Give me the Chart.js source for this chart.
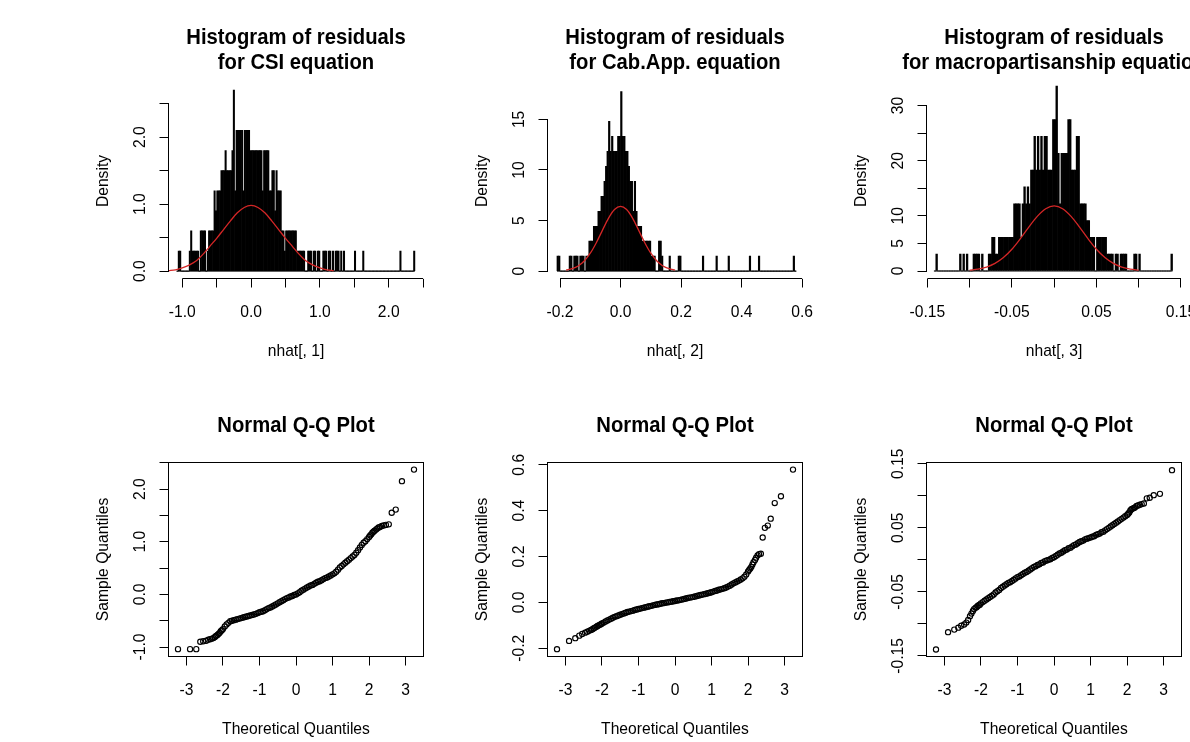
<!DOCTYPE html>
<html>
<head>
<meta charset="utf-8">
<script src="https://cdn.jsdelivr.net/npm/chart.js@4.4.1/dist/chart.umd.min.js"></script>
<style>
  html, body { margin: 0; padding: 0; background: #fff; overflow: hidden; }
  body { width: 1190px; height: 742px; position: relative; }
  canvas { position: absolute; }
</style>
</head>
<body>
<canvas id="hist1" width="380" height="371" style="left:58px;top:0px"></canvas>
<canvas id="hist2" width="380" height="371" style="left:437px;top:0px"></canvas>
<canvas id="hist3" width="380" height="371" style="left:816px;top:0px"></canvas>
<canvas id="qq1" width="380" height="371" style="left:58px;top:371px"></canvas>
<canvas id="qq2" width="380" height="371" style="left:437px;top:371px"></canvas>
<canvas id="qq3" width="380" height="371" style="left:816px;top:371px"></canvas>
<script>
// histogram densities, one value per bin
const csiBinStart = -1.08;
const csiBinWidth = 0.02;
const csiDensity = [
  0, .3, .3, 0, 0, 0, 0, 0, 0, .3,
  .6, .3, .3, .3, .3, .3, 0, .6, .6, .6,
  .6, 0, .3, .6, .6, .6, .6, 1.2, .9, 1.2,
  1.2, 1.2, 1.5, 1.5, 1.5, 1.8, 1.5, 1.5, 1.5, 1.5,
  1.8, 2.7, 1.2, 2.1, 2.1, 2.1, 2.1, 2.1, 1.2, 2.1,
  2.1, 2.1, 2.1, 1.8, 1.8, 1.8, 1.8, 1.8, 1.8, 1.8,
  1.8, 1.8, 1.2, 1.8, 1.8, 1.8, 1.8, 1.2, 1.2, 1.5,
  1.5, .9, 1.5, 1.2, 1.2, 1.2, .6, .6, .3, .6,
  .6, .6, .6, .6, .6, .6, .6, .3, .3, .3,
  .3, .3, .3, 0, 0, .3, .3, .3, 0, .3,
  .3, 0, .3, .3, 0, 0, .3, .3, .3, 0,
  .3, .3, 0, .3, 0, .3, .3, .3, 0, .3,
  0, .3, 0, 0, 0, 0, 0, 0, 0, .3,
  0, 0, 0, 0, 0, .3, 0, 0, 0, 0,
  0, 0, 0, 0, 0, 0, 0, 0, 0, 0,
  0, 0, 0, 0, 0, 0, 0, 0, 0, 0,
  0, 0, .3, 0, 0, 0, 0, 0, 0, 0,
  0, 0, .3
];

const cabBinStart = -0.21;
const cabBinWidth = 0.005;
const cabDensity = [
  1.48, 1.48, 0, 0, 0, 0, 0, 0, 1.48, 1.48,
  0, 1.48, 1.48, 1.48, 0, 1.48, 1.48, 1.48, 0, 1.48,
  1.48, 2.96, 2.96, 2.96, 4.44, 4.44, 4.44, 5.92, 5.92, 7.4,
  7.4, 8.88, 10.36, 11.84, 14.8, 11.84, 13.32, 11.84, 11.84, 11.84,
  13.32, 13.32, 17.76, 13.32, 13.32, 11.84, 11.84, 10.36, 8.88, 8.88,
  5.92, 8.88, 5.92, 4.44, 4.44, 4.44, 2.96, 2.96, 2.96, 2.96,
  2.96, 2.96, 1.48, 1.48, 1.48, 0, 0, 2.96, 2.96, 1.48,
  0, 0, 0, 0, 1.48, 0, 0, 0, 0, 0,
  1.48, 1.48, 0, 0, 0, 0, 0, 0, 0, 0,
  0, 0, 0, 0, 0, 0, 1.48, 0, 0, 0,
  0, 0, 0, 0, 0, 1.48, 0, 0, 0, 0,
  0, 0, 0, 1.48, 0, 0, 0, 0, 0, 0,
  0, 0, 0, 0, 0, 0, 0, 1.48, 0, 0,
  0, 0, 0, 1.48, 0, 0, 0, 0, 0, 0,
  0, 0, 0, 0, 0, 0, 0, 0, 0, 0,
  0, 0, 0, 0, 0, 0, 1.48, 0
];

const macroBinStart = -0.142;
const macroBinWidth = 0.002;
const macroDensity = [
  0, 3.05, 0, 0, 0, 0, 0, 0, 0, 0,
  0, 0, 0, 0, 0, 3.05, 0, 3.05, 0, 3.05,
  0, 0, 0, 3.05, 3.05, 3.05, 3.05, 0, 3.05, 0,
  0, 0, 3.05, 3.05, 6.1, 6.1, 3.05, 3.05, 6.1, 6.1,
  6.1, 6.1, 6.1, 6.1, 6.1, 6.1, 6.1, 12.2, 12.2, 12.2,
  12.2, 6.1, 12.2, 15.25, 12.2, 15.25, 12.2, 18.3, 18.3, 24.4,
  18.3, 24.4, 18.3, 24.4, 18.3, 24.4, 24.4, 18.3, 18.3, 18.3,
  27.45, 27.45, 33.55, 21.35, 12.2, 21.35, 21.35, 21.35, 21.35, 27.45,
  27.45, 18.3, 18.3, 18.3, 24.4, 24.4, 12.2, 12.2, 12.2, 12.2,
  9.15, 9.15, 6.1, 6.1, 6.1, 0, 6.1, 6.1, 6.1, 6.1,
  6.1, 6.1, 3.05, 3.05, 3.05, 3.05, 0, 3.05, 3.05, 0,
  3.05, 3.05, 3.05, 3.05, 0, 0, 0, 0, 3.05, 3.05,
  0, 3.05, 0, 0, 0, 0, 0, 0, 0, 0,
  0, 0, 0, 0, 0, 0, 0, 0, 0, 0,
  3.05
];

// fitted normal curves (red)
const csiCurveX = [-1.2, -1.1, -1.0, -0.9, -0.8, -0.7, -0.6, -0.5, -0.4, -0.3, -0.2, -0.1, 0,
  0.1, 0.2, 0.3, 0.4, 0.5, 0.6, 0.7, 0.8, 0.9, 1.0, 1.1, 1.2];
const csiCurveY = [0.007, 0.02, 0.05, 0.09, 0.15, 0.25, 0.37, 0.49, 0.62, 0.75, 0.87, 0.95, 0.98,
  0.95, 0.87, 0.75, 0.62, 0.49, 0.37, 0.25, 0.15, 0.09, 0.05, 0.02, 0.007];
const cabCurveX = [-0.18, -0.16, -0.14, -0.12, -0.10, -0.08, -0.06, -0.04, -0.02, 0,
  0.02, 0.04, 0.06, 0.08, 0.10, 0.12, 0.14, 0.16, 0.18];
const cabCurveY = [0.10, 0.24, 0.51, 1.00, 1.77, 2.81, 4.03, 5.22, 6.09, 6.41,
  6.09, 5.22, 4.03, 2.81, 1.77, 1.00, 0.51, 0.24, 0.10];
const macroCurveX = [-0.10, -0.09, -0.08, -0.07, -0.06, -0.05, -0.04, -0.03, -0.02, -0.01, 0,
  0.01, 0.02, 0.03, 0.04, 0.05, 0.06, 0.07, 0.08, 0.09, 0.10];
const macroCurveY = [0.15, 0.34, 0.72, 1.38, 2.44, 3.95, 5.86, 7.96, 9.91, 11.29, 11.8,
  11.29, 9.91, 7.96, 5.86, 3.95, 2.44, 1.38, 0.72, 0.34, 0.15];

// Q-Q plots: theoretical quantiles shared, sample quantiles per equation
const theoQuantiles = [
  -3.23, -2.90, -2.73, -2.62, -2.54, -2.46, -2.40, -2.35, -2.30, -2.26, -2.22, -2.19, -2.15, -2.12, -2.09, -2.06, -2.03, -2.00,
  -1.95, -1.90, -1.85, -1.80, -1.75, -1.70, -1.65, -1.60, -1.55, -1.50,
  -1.45, -1.40, -1.35, -1.30, -1.25, -1.20, -1.15, -1.10, -1.05, -1.00,
  -0.95, -0.90, -0.85, -0.80, -0.75, -0.70, -0.65, -0.60, -0.55, -0.50,
  -0.45, -0.40, -0.35, -0.30, -0.25, -0.20, -0.15, -0.10, -0.05, 0.00,
  0.05, 0.10, 0.15, 0.20, 0.25, 0.30, 0.35, 0.40, 0.45, 0.50,
  0.55, 0.60, 0.65, 0.70, 0.75, 0.80, 0.85, 0.90, 0.95, 1.00,
  1.05, 1.10, 1.15, 1.20, 1.25, 1.30, 1.35, 1.40, 1.45, 1.50,
  1.55, 1.60, 1.65, 1.70, 1.75, 1.80, 1.85, 1.90, 1.95,
  2.00, 2.03, 2.06, 2.09, 2.12, 2.15, 2.19, 2.22, 2.26, 2.30, 2.35, 2.40, 2.46, 2.54, 2.62, 2.73, 2.90, 3.23
];
const csiSample = [
  -1.04, -1.04, -1.04, -0.90, -0.89, -0.88, -0.86, -0.85, -0.84, -0.83, -0.81, -0.79, -0.77, -0.75, -0.73, -0.70, -0.68, -0.66,
  -0.61, -0.57, -0.54, -0.51, -0.50, -0.49, -0.48, -0.47, -0.46, -0.45,
  -0.44, -0.43, -0.42, -0.41, -0.40, -0.39, -0.38, -0.37, -0.355, -0.34,
  -0.33, -0.32, -0.30, -0.28, -0.26, -0.25, -0.23, -0.21, -0.19, -0.17,
  -0.15, -0.13, -0.11, -0.09, -0.07, -0.06, -0.04, -0.03, -0.01, 0.00,
  0.02, 0.04, 0.07, 0.09, 0.11, 0.13, 0.15, 0.17, 0.18, 0.20,
  0.22, 0.24, 0.25, 0.27, 0.29, 0.31, 0.32, 0.34, 0.36, 0.38,
  0.40, 0.43, 0.47, 0.51, 0.54, 0.57, 0.60, 0.63, 0.66, 0.69,
  0.72, 0.75, 0.79, 0.84, 0.89, 0.94, 0.98, 1.01, 1.05,
  1.09, 1.12, 1.14, 1.17, 1.19, 1.21, 1.23, 1.25, 1.27, 1.28, 1.30, 1.31, 1.32, 1.33, 1.55, 1.61, 2.15, 2.37
];
const cabSample = [
  -0.204, -0.168, -0.156, -0.145, -0.138, -0.132, -0.128, -0.124, -0.120, -0.117, -0.113, -0.110, -0.106, -0.103, -0.100, -0.098, -0.095, -0.092,
  -0.088, -0.083, -0.079, -0.075, -0.071, -0.067, -0.063, -0.060, -0.057, -0.054,
  -0.051, -0.048, -0.045, -0.042, -0.040, -0.038, -0.036, -0.033, -0.031, -0.029,
  -0.027, -0.025, -0.023, -0.021, -0.019, -0.017, -0.015, -0.013, -0.011, -0.009,
  -0.008, -0.006, -0.004, -0.003, -0.001, 0.000, 0.002, 0.003, 0.005, 0.006,
  0.008, 0.009, 0.011, 0.013, 0.015, 0.017, 0.019, 0.021, 0.022, 0.024,
  0.026, 0.028, 0.030, 0.032, 0.034, 0.036, 0.038, 0.040, 0.042, 0.044,
  0.047, 0.050, 0.052, 0.055, 0.057, 0.059, 0.062, 0.065, 0.069, 0.073,
  0.078, 0.083, 0.087, 0.091, 0.095, 0.100, 0.105, 0.112, 0.122,
  0.135, 0.142, 0.148, 0.155, 0.165, 0.175, 0.185, 0.195, 0.205, 0.210, 0.212, 0.283, 0.325, 0.335, 0.365, 0.433, 0.463, 0.579
];
const macroSample = [
  -0.140, -0.113, -0.109, -0.106, -0.103, -0.101, -0.098, -0.094, -0.088, -0.084, -0.080, -0.077, -0.075, -0.074, -0.072, -0.071, -0.070, -0.068,
  -0.066, -0.064, -0.062, -0.060, -0.058, -0.056, -0.054, -0.051, -0.049, -0.047,
  -0.044, -0.042, -0.040, -0.038, -0.036, -0.035, -0.033, -0.031, -0.029, -0.027,
  -0.026, -0.024, -0.022, -0.020, -0.019, -0.017, -0.015, -0.013, -0.011, -0.010,
  -0.008, -0.007, -0.005, -0.004, -0.002, -0.001, 0.000, 0.001, 0.003, 0.004,
  0.006, 0.008, 0.010, 0.011, 0.013, 0.015, 0.016, 0.018, 0.019, 0.021,
  0.023, 0.024, 0.026, 0.028, 0.029, 0.030, 0.032, 0.033, 0.034, 0.035,
  0.036, 0.037, 0.039, 0.040, 0.041, 0.043, 0.044, 0.046, 0.048, 0.050,
  0.052, 0.054, 0.056, 0.058, 0.060, 0.062, 0.064, 0.066, 0.068,
  0.070, 0.072, 0.074, 0.077, 0.079, 0.080, 0.081, 0.082, 0.084, 0.085, 0.086, 0.087, 0.088, 0.096, 0.097, 0.101, 0.103, 0.140
];

// ticks and labels ('' = tick without label, as R drops overlapping ones)
const csiHistXTicks = [-1.0, -0.5, 0, 0.5, 1.0, 1.5, 2.0, 2.5];
const csiHistXLabels = ['-1.0', '', '0.0', '', '1.0', '', '2.0', ''];
const csiHistYTicks = [0, 0.5, 1.0, 1.5, 2.0, 2.5];
const csiHistYLabels = ['0.0', '', '1.0', '', '2.0', ''];
const cabHistXTicks = [-0.2, 0, 0.2, 0.4, 0.6];
const cabHistXLabels = ['-0.2', '0.0', '0.2', '0.4', '0.6'];
const cabHistYTicks = [0, 5, 10, 15];
const cabHistYLabels = ['0', '5', '10', '15'];
const macroHistXTicks = [-0.15, -0.10, -0.05, 0, 0.05, 0.10, 0.15];
const macroHistXLabels = ['-0.15', '', '-0.05', '', '0.05', '', '0.15'];
const macroHistYTicks = [0, 5, 10, 15, 20, 25, 30];
const macroHistYLabels = ['0', '5', '10', '', '20', '', '30'];
const qqXTicks = [-3, -2, -1, 0, 1, 2, 3];
const qqXLabels = ['-3', '-2', '-1', '0', '1', '2', '3'];
const csiQQYTicks = [-1.0, -0.5, 0, 0.5, 1.0, 1.5, 2.0, 2.5];
const csiQQYLabels = ['-1.0', '', '0.0', '', '1.0', '', '2.0', ''];
const cabQQYTicks = [-0.2, 0, 0.2, 0.4, 0.6];
const cabQQYLabels = ['-0.2', '0.0', '0.2', '0.4', '0.6'];
const macroQQYTicks = [-0.15, -0.10, -0.05, 0, 0.05, 0.10, 0.15];
const macroQQYLabels = ['-0.15', '', '-0.05', '', '0.05', '', '0.15'];

const FONT = '"Liberation Sans", Arial, Helvetica, sans-serif';
const SQUEEZE = 0.92; // reference text is a little narrow

function drawText(ctx, s, x, y, vertical) {
  ctx.save();
  ctx.translate(x, y);
  if (vertical) ctx.rotate(-Math.PI / 2);
  ctx.scale(SQUEEZE, 1);
  ctx.fillText(s, 0, 0);
  ctx.restore();
}

// R-like axes: line from first to last tick (or a full box), titles, labels
const rStyle = {
  id: "rStyle",
  afterDraw(chart, args, o) {
    const ctx = chart.ctx;
    const a = chart.chartArea;
    const xs = chart.scales.x;
    const ys = chart.scales.y;
    ctx.save();
    ctx.strokeStyle = "#000";
    ctx.lineWidth = 1;
    if (o.box) {
      ctx.strokeRect(a.left, a.top, a.right - a.left, a.bottom - a.top);
    } else {
      ctx.beginPath();
      ctx.moveTo(xs.getPixelForValue(o.xTicks[0]), a.bottom);
      ctx.lineTo(xs.getPixelForValue(o.xTicks[o.xTicks.length - 1]), a.bottom);
      ctx.moveTo(a.left, ys.getPixelForValue(o.yTicks[0]));
      ctx.lineTo(a.left, ys.getPixelForValue(o.yTicks[o.yTicks.length - 1]));
      ctx.stroke();
    }

    ctx.fillStyle = "#000";
    ctx.textAlign = "center";
    ctx.textBaseline = "alphabetic";
    const cx = (a.left + a.right) / 2;
    ctx.font = "bold 22px " + FONT;
    const offs = o.title.length === 2 ? [-39.5, -15] : [-31];
    o.title.forEach(function (t, i) {
      drawText(ctx, t, cx, a.top + offs[i]);
    });

    ctx.font = "17px " + FONT;
    o.xTicks.forEach(function (v, i) {
      if (o.xLabels[i]) drawText(ctx, o.xLabels[i], xs.getPixelForValue(v), a.bottom + 38.5);
    });
    o.yTicks.forEach(function (v, i) {
      if (o.yLabels[i]) drawText(ctx, o.yLabels[i], a.left - 23.5, ys.getPixelForValue(v), true);
    });
    drawText(ctx, o.xTitle, cx, a.bottom + 77);
    drawText(ctx, o.yTitle, a.left - 60.5, (a.top + a.bottom) / 2, true);
    ctx.restore();
  },
};

function axis(min, max, ticks, horizontal) {
  return {
    type: "linear",
    min: min,
    max: max,
    offset: false,
    afterBuildTicks: function (s) {
      s.ticks = ticks.map(function (v) {
        return { value: v };
      });
    },
    afterFit: function (s) {
      if (horizontal) s.height = 9;
      else s.width = 9;
    },
    ticks: { display: false },
    grid: {
      display: true,
      offset: false,
      drawOnChartArea: false,
      drawTicks: true,
      tickLength: 9,
      color: "#000",
      lineWidth: 1,
    },
    border: { display: false },
  };
}

function baseOptions(padding, xs, ys, labels) {
  return {
    responsive: false,
    animation: false,
    events: [],
    layout: { padding: padding, autoPadding: false },
    plugins: {
      legend: { display: false },
      tooltip: { enabled: false },
      title: { display: false },
      rStyle: labels,
    },
    scales: { x: xs, y: ys },
  };
}

const histPad = { top: 83.5, bottom: 83.5, left: 101.5, right: 14.5 };
const qqPad = { top: 91.5, bottom: 76.5, left: 101.5, right: 14.5 };

function createHistogram(id, start, width, density, curveX, curveY, xr, yr, xt, xl, yt, yl, title, xTitle) {
  var bars = density.map(function (d, i) {
    return { x: start + (i + 0.5) * width, y: d };
  });
  var curve = curveX.map(function (x, i) {
    return { x: x, y: curveY[i] };
  });
  var base = [
    { x: start, y: 0 },
    { x: start + density.length * width, y: 0 },
  ];
  new Chart(document.getElementById(id).getContext("2d"), {
    type: "bar",
    data: {
      datasets: [
        {
          type: "line",
          data: curve,
          borderColor: "#d42626",
          borderWidth: 1.3,
          pointRadius: 0,
          cubicInterpolationMode: "monotone",
          order: 0,
        },
        {
          type: "line",
          data: base,
          borderColor: "#000",
          borderWidth: 1,
          pointRadius: 0,
          order: 1,
        },
        {
          type: "bar",
          data: bars,
          backgroundColor: "#000",
          borderWidth: 0,
          barPercentage: 1,
          categoryPercentage: 1,
          order: 2,
        },
      ],
    },
    options: baseOptions(histPad, axis(xr[0], xr[1], xt, true), axis(yr[0], yr[1], yt, false), {
      box: false,
      title: title,
      xTitle: xTitle,
      yTitle: "Density",
      xTicks: xt,
      xLabels: xl,
      yTicks: yt,
      yLabels: yl,
    }),
    plugins: [rStyle],
  });
}

function createQQ(id, sample, yr, yt, yl) {
  var pts = theoQuantiles.map(function (q, i) {
    return { x: q, y: sample[i] };
  });
  new Chart(document.getElementById(id).getContext("2d"), {
    type: "scatter",
    data: {
      datasets: [
        {
          data: pts,
          pointStyle: "circle",
          pointRadius: 2.6,
          pointBorderWidth: 1.15,
          pointBorderColor: "#000",
          pointBackgroundColor: "rgba(0,0,0,0)",
        },
      ],
    },
    options: baseOptions(qqPad, axis(-3.49, 3.49, qqXTicks, true), axis(yr[0], yr[1], yt, false), {
      box: true,
      title: ["Normal Q-Q Plot"],
      xTitle: "Theoretical Quantiles",
      yTitle: "Sample Quantiles",
      xTicks: qqXTicks,
      xLabels: qqXLabels,
      yTicks: yt,
      yLabels: yl,
    }),
    plugins: [rStyle],
  });
}

createHistogram("hist1", csiBinStart, csiBinWidth, csiDensity, csiCurveX, csiCurveY,
  [-1.2, 2.505], [-0.11, 2.8], csiHistXTicks, csiHistXLabels, csiHistYTicks, csiHistYLabels,
  ["Histogram of residuals", "for CSI equation"], "nhat[, 1]");
createHistogram("hist2", cabBinStart, cabBinWidth, cabDensity, cabCurveX, cabCurveY,
  [-0.2413, 0.601], [-0.73, 18.55], cabHistXTicks, cabHistXLabels, cabHistYTicks, cabHistYLabels,
  ["Histogram of residuals", "for Cab.App. equation"], "nhat[, 2]");
createHistogram("hist3", macroBinStart, macroBinWidth, macroDensity, macroCurveX, macroCurveY,
  [-0.151, 0.1506], [-1.36, 34.0], macroHistXTicks, macroHistXLabels, macroHistYTicks, macroHistYLabels,
  ["Histogram of residuals", "for macropartisanship equation"], "nhat[, 3]");

createQQ("qq1", csiSample, [-1.18, 2.505], csiQQYTicks, csiQQYLabels);
createQQ("qq2", cabSample, [-0.236, 0.61], cabQQYTicks, cabQQYLabels);
createQQ("qq3", macroSample, [-0.151, 0.152], macroQQYTicks, macroQQYLabels);
</script>
</body>
</html>
